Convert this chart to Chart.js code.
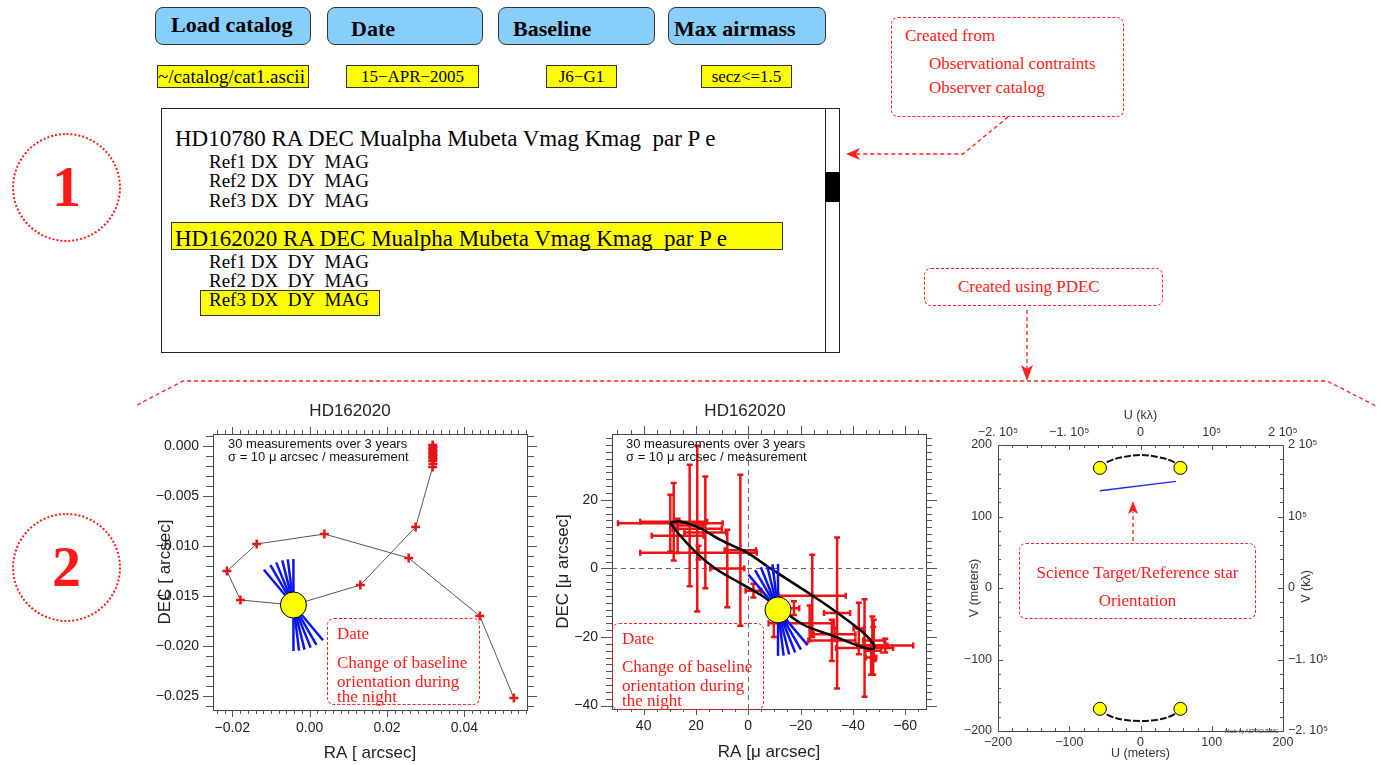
<!DOCTYPE html>
<html>
<head>
<meta charset="utf-8">
<script src="https://cdn.jsdelivr.net/npm/chart.js@4.4.1/dist/chart.umd.min.js"></script>
<style>
  body { margin: 0; width: 1381px; height: 765px; position: relative; overflow: hidden; background: #fff;
         font-family: 'Liberation Serif', 'Times New Roman', serif; }
  .a { position: absolute; white-space: nowrap; }
  .btn { position: absolute; top: 7px; height: 38px; background: #87cefa; border: 1px solid #333; border-radius: 8px;
         box-sizing: border-box; font-weight: bold; font-size: 22px; }
  .btn span { position: absolute; line-height: 22px; }
  .fld { position: absolute; top: 65px; height: 23px; background: #ffff00; border: 1px solid #333; box-sizing: border-box;
         font-size: 17px; line-height: 21px; text-align: center; white-space: nowrap; overflow: hidden; }
  .hd { font-size: 23px; line-height: 23px; }
  .ref { font-size: 19px; line-height: 19px; }
  .dash { position: absolute; border: 1.3px dashed #ff2020; border-radius: 7px; box-sizing: border-box; }
  .red { position: absolute; white-space: nowrap; color: #ff1a1a; font-size: 17px; line-height: 17px; }
  .num { position: absolute; border: 2.5px dotted #ff1a1a; border-radius: 50%; box-sizing: border-box;
         color: #ff1a1a; font-weight: bold; font-size: 58px; text-align: center; }
  .note { position: absolute; white-space: nowrap; font-family: 'Liberation Sans', Arial, sans-serif; font-size: 13px;
          line-height: 13px; color: #111; }
  .cv { position: absolute; }
</style>
</head>
<body>

<!-- panel 1 : catalog selector -->
<div class="num" style="left:12px;top:133px;width:109px;height:109px;line-height:104px;">1</div>
<div class="num" style="left:12px;top:513px;width:109px;height:109px;line-height:104px;">2</div>

<div class="btn" style="left:155px;width:156px;"><span style="left:15px;top:6px;">Load catalog</span></div>
<div class="btn" style="left:327px;width:156px;"><span style="left:23px;top:10px;">Date</span></div>
<div class="btn" style="left:498px;width:157px;"><span style="left:14px;top:10px;">Baseline</span></div>
<div class="btn" style="left:668px;width:158px;"><span style="left:5px;top:10px;">Max airmass</span></div>

<div class="fld" style="left:157px;width:152px;text-align:left;font-size:19px;">~/catalog/cat1.ascii</div>
<div class="fld" style="left:346px;width:133px;">15−APR−2005</div>
<div class="fld" style="left:546px;width:71px;">J6−G1</div>
<div class="fld" style="left:701px;width:91px;">secz&lt;=1.5</div>

<div class="a" style="left:161px;top:108px;width:679px;height:245px;border:1px solid #222;box-sizing:border-box;"></div>
<div class="a" style="left:825px;top:108px;width:1px;height:245px;background:#222;"></div>
<div class="a" style="left:825px;top:172px;width:15px;height:30px;background:#000;"></div>

<div class="a hd" style="left:175px;top:127px;">HD10780 RA DEC Mualpha Mubeta Vmag Kmag&nbsp; par P e</div>
<div class="a ref" style="left:209px;top:152px;">Ref1 DX&nbsp; DY&nbsp; MAG</div>
<div class="a ref" style="left:209px;top:171px;">Ref2 DX&nbsp; DY&nbsp; MAG</div>
<div class="a ref" style="left:209px;top:191px;">Ref3 DX&nbsp; DY&nbsp; MAG</div>
<div class="a" style="left:171px;top:222px;width:612px;height:28px;background:#ffff00;border:1px solid #333;box-sizing:border-box;"></div>
<div class="a hd" style="left:175px;top:227px;">HD162020 RA DEC Mualpha Mubeta Vmag Kmag&nbsp; par P e</div>
<div class="a ref" style="left:209px;top:252px;">Ref1 DX&nbsp; DY&nbsp; MAG</div>
<div class="a ref" style="left:209px;top:271px;">Ref2 DX&nbsp; DY&nbsp; MAG</div>
<div class="a" style="left:200px;top:290px;width:180px;height:26px;background:#ffff00;border:1px solid #333;box-sizing:border-box;"></div>
<div class="a ref" style="left:209px;top:290px;">Ref3 DX&nbsp; DY&nbsp; MAG</div>

<div class="dash" style="left:891px;top:17px;width:233px;height:100px;"></div>
<div class="red" style="left:905px;top:27px;">Created from</div>
<div class="red" style="left:929px;top:55px;">Observational contraints</div>
<div class="red" style="left:929px;top:79px;">Observer catalog</div>

<div class="dash" style="left:924px;top:268px;width:239px;height:38px;"></div>
<div class="red" style="left:958px;top:278px;">Created using PDEC</div>

<!-- panel 2 : charts -->
<div class="cv" style="left:150px;top:395px;"><canvas id="c1" width="400" height="370"></canvas></div>
<div class="cv" style="left:550px;top:395px;"><canvas id="c2" width="390" height="370"></canvas></div>
<div class="cv" style="left:940px;top:400px;"><canvas id="c3" width="441" height="365"></canvas></div>

<div class="note" style="left:228px;top:437px;">30 measurements over 3 years</div>
<div class="note" style="left:228px;top:450px;">σ = 10 μ arcsec / measurement</div>
<div class="note" style="left:626px;top:437px;">30 measurements over 3 years</div>
<div class="note" style="left:626px;top:450px;">σ = 10 μ arcsec / measurement</div>

<div class="dash" style="left:327px;top:618px;width:153px;height:87px;"></div>
<div class="red" style="left:337px;top:625px;">Date</div>
<div class="red" style="left:337px;top:654px;">Change of baseline</div>
<div class="red" style="left:337px;top:673px;">orientation during</div>
<div class="red" style="left:337px;top:688px;">the night</div>

<div class="dash" style="left:612px;top:623px;width:152px;height:87px;"></div>
<div class="red" style="left:622px;top:630px;">Date</div>
<div class="red" style="left:622px;top:658px;">Change of baseline</div>
<div class="red" style="left:622px;top:677px;">orientation during</div>
<div class="red" style="left:622px;top:692px;">the night</div>

<div class="dash" style="left:1019px;top:543px;width:237px;height:76px;"></div>
<div class="red" style="left:1019px;width:237px;text-align:center;top:564px;">Science Target/Reference star</div>
<div class="red" style="left:1019px;width:237px;text-align:center;top:592px;">Orientation</div>

<div class="note" style="left:1286px;top:580px;width:40px;text-align:center;font-size:12.5px;color:#333;transform:rotate(-90deg);">V (kλ)</div>
<div class="note" style="left:1225px;top:729px;font-size:5px;line-height:5px;color:#333;">Made by ASPRO/JMMC</div>

<svg class="a" style="left:0;top:0;" width="1381" height="765">
  <g fill="none" stroke="#ff2020" stroke-width="1.3" stroke-dasharray="4,3">
    <polyline points="1008,117 963,154 856,154"/>
    <line x1="1027" y1="310" x2="1027" y2="372"/>
    <polyline points="137,405 183,381 1327,381 1378,407"/>
    <line x1="1133" y1="541" x2="1133" y2="512"/>
  </g>
  <g fill="#ff2020">
    <polygon points="846,154 860,148 856,154 860,160"/>
    <polygon points="1027,381 1021,365 1027,369 1033,365"/>
    <polygon points="1133,501 1128,514 1133,511 1138,514"/>
  </g>
</svg>

<script>
const FONT = "'Liberation Sans', Arial, sans-serif";

// ---- chart 1 : apparent path of HD162020 (arcsec) ----
const pathRA  = [0.0318, 0.0319, 0.0318, 0.0319, 0.0318, 0.0319, 0.0318, 0.0319, 0.0318, 0.0319, 0.0318,
                 0.0274, 0.0131, -0.0042, -0.0179, -0.0214, -0.0137, 0.0038, 0.0256, 0.0440, 0.0528];
const pathDEC = [0.0001, -0.0001, -0.0003, -0.0005, -0.0007, -0.0009, -0.0011, -0.0013, -0.0015, -0.0018, -0.0021,
                 -0.0081, -0.0139, -0.0159, -0.0154, -0.0125, -0.0098, -0.0088, -0.0112, -0.0170, -0.0252];
const sun1 = {x: -0.0042, y: -0.0159};
const ra1TickValues = [-0.02, 0, 0.02, 0.04];
const ra1TickLabels = ['−0.02', '0.00', '0.02', '0.04'];
const dec1TickValues = [0, -0.005, -0.01, -0.015, -0.02, -0.025];
const dec1TickLabels = ['0.000', '−0.005', '−0.010', '−0.015', '−0.020', '−0.025'];

// ---- chart 2 : astrometric orbit (micro arcsec) ----
const measRA     = [29.8, 28.5, 22.4, 19.5, 16.4, 27, 19, 8, 3, -2, -9.8, -17.5, -23.5, -24.5, -34, -32, -33,
                    -42.3, -44.5, -47.5, -48, -47.8, -47, -52.4];
const measDEC    = [13.2, 13.6, 12.5, 11.6, 10.5, 9.5, 4.6, 0, 5.3, -6.5, -16, -11.6, -16, -8, -13, -21, -19.2,
                    -17.5, -23.2, -22.5, -21, -24, -26, -22.5];
const measRAErr  = [20, 12.8, 5, 9.4, 8, 9.9, 22.3, 6.5, 6, 3, 2, 2, 9.3, 12.8, 5, 9, 8,
                    2, 10.9, 5.7, 4, 3, 2, 10.7];
const measDECErr = [8.3, 11.3, 17.7, 24.2, 16.3, 5, 2, 11.3, 22, 2, 4, 2, 5.2, 12, 22, 6, 2,
                    7.5, 14.2, 8.5, 6, 7, 5, 2];
const orbitRA  = [29.8, 26, 18.3, 10.6, 0, -8.5, -25.1, -35.3, -44.3, -48.1, -47.8, -43, -31.5, -21.3,
                  -11.4, -4.7, 3, 11.9, 19.6, 27.3, 29.8];
const orbitDEC = [13.4, 13.7, 11.7, 8.3, 4.4, 0, -8.2, -13.6, -18.9, -22.3, -23.5, -22.8, -19.4, -16.5,
                  -11.3, -7.7, -4.3, -0.4, 4.4, 10.7, 13.4];
const sun2 = {x: -11.4, y: -12.1};
const ra2TickValues = [40, 20, 0, -20, -40, -60];
const ra2TickLabels = ['40', '20', '0', '−20', '−40', '−60'];
const dec2TickValues = [20, 0, -20, -40];
const dec2TickLabels = ['20', '0', '−20', '−40'];

// baseline orientation during the night (degrees from vertical)
const baselineAngles = [0, 7, 14, 22, 30, 40];

// ---- chart 3 : uv coverage ----
const telU = [-57, 56, -57, 56];
const telV = [168, 168, -169, -169];
const arcU = [-57, -45, -25, 0, 25, 45, 56];
const arcVTop = [168, 177, 183, 186, 183, 177, 168];
const arcVBottom = [-169, -178, -184, -186, -184, -178, -169];
const orientU = [-57, 50];
const orientV = [136, 149];
const uvTickValues = [-200, -100, 0, 100, 200];
const uvMeterLabels = ['−200', '−100', '0', '100', '200'];
const uKlambdaLabels = ['−2. 10⁵', '−1. 10⁵', '0', '10⁵', '2 10⁵'];
const vKlambdaLabels = ['−2. 10⁵', '−1. 10⁵', '0', '10⁵', '2 10⁵'];

const pts = (xs, ys) => xs.map((x, i) => ({x, y: ys[i]}));

function axis(o) {
  const tol = o.step / 100;
  return {
    type: 'linear', position: o.pos, min: o.min, max: o.max, reverse: !!o.reverse,
    grid: {display: false, drawTicks: false},
    border: {display: true, color: '#444', width: 1},
    ticks: {
      stepSize: o.step, autoSkip: false, maxRotation: 0, padding: o.pad || 0, includeBounds: false,
      display: !!o.labels, color: o.color || '#222', font: {family: FONT, size: o.font || 14},
      callback: v => {
        if (!o.labels) return '';
        const i = o.values.findIndex(t => Math.abs(t - v) < tol);
        return i >= 0 ? o.labels[i] : '';
      }
    },
    title: o.title ? {display: true, text: o.title, color: o.color || '#222',
                      font: {family: FONT, size: o.tfont || 17}, padding: o.tpad} : {display: false},
    afterFit: s => { if (o.pos === 'top' || o.pos === 'bottom') s.height = o.size; else s.width = o.size; }
  };
}

// tick marks with long majors and short minors, outward or inward
function tickMarks(cfg) {
  return {
    id: 'tickMarks',
    afterDraw(chart) {
      const ctx = chart.ctx;
      ctx.save();
      ctx.strokeStyle = '#555';
      ctx.lineWidth = 1;
      Object.keys(cfg).forEach(id => {
        const s = chart.scales[id], m = cfg[id];
        const pos = s.options.position;
        const tol = Math.abs(s.max - s.min) * 1e-6;
        const dir = m.dir === 'in' ? -1 : 1;
        s.ticks.forEach(t => {
          const major = m.values.some(v => Math.abs(v - t.value) < tol);
          const len = (major ? m.major : m.minor) * dir;
          const p = Math.round(s.getPixelForValue(t.value)) + 0.5;
          ctx.beginPath();
          if (pos === 'left') { ctx.moveTo(s.right, p); ctx.lineTo(s.right - len, p); }
          else if (pos === 'right') { ctx.moveTo(s.left, p); ctx.lineTo(s.left + len, p); }
          else if (pos === 'bottom') { ctx.moveTo(p, s.top); ctx.lineTo(p, s.top + len); }
          else { ctx.moveTo(p, s.bottom); ctx.lineTo(p, s.bottom - len); }
          ctx.stroke();
        });
      });
      ctx.restore();
    }
  };
}

// blue fan of baseline orientations through the star position
function baselineFan(center, afterIndex) {
  return {
    id: 'baselineFan',
    afterDatasetDraw(chart, args) {
      if (args.index !== afterIndex) return;
      const ctx = chart.ctx;
      const cx = chart.scales.x.getPixelForValue(center.x);
      const cy = chart.scales.y.getPixelForValue(center.y);
      const L = 46;
      ctx.save();
      ctx.strokeStyle = '#0a14f0';
      ctx.lineWidth = 2.5;
      baselineAngles.forEach(a => {
        const r = a * Math.PI / 180;
        ctx.beginPath();
        ctx.moveTo(cx - L * Math.sin(r), cy - L * Math.cos(r));
        ctx.lineTo(cx + L * Math.sin(r), cy + L * Math.cos(r));
        ctx.stroke();
      });
      ctx.restore();
    }
  };
}

const errorBars = {
  id: 'errorBars',
  beforeDatasetsDraw(chart) {
    const {ctx, chartArea: ca} = chart;
    const xs = chart.scales.x, ys = chart.scales.y;
    ctx.save();
    // zero reference lines
    ctx.strokeStyle = '#666';
    ctx.lineWidth = 1;
    ctx.setLineDash([5, 4]);
    const x0 = Math.round(xs.getPixelForValue(0)) + 0.5, y0 = Math.round(ys.getPixelForValue(0)) + 0.5;
    ctx.beginPath();
    ctx.moveTo(x0, ca.top); ctx.lineTo(x0, ca.bottom);
    ctx.moveTo(ca.left, y0); ctx.lineTo(ca.right, y0);
    ctx.stroke();
    ctx.setLineDash([]);
    ctx.strokeStyle = '#ee1212';
    ctx.lineWidth = 2.5;
    const cap = 3;
    measRA.forEach((ra, i) => {
      const px = xs.getPixelForValue(ra), py = ys.getPixelForValue(measDEC[i]);
      const xa = xs.getPixelForValue(ra - measRAErr[i]), xb = xs.getPixelForValue(ra + measRAErr[i]);
      const ya = ys.getPixelForValue(measDEC[i] - measDECErr[i]), yb = ys.getPixelForValue(measDEC[i] + measDECErr[i]);
      ctx.beginPath();
      ctx.moveTo(xa, py); ctx.lineTo(xb, py);
      ctx.moveTo(xa, py - cap); ctx.lineTo(xa, py + cap);
      ctx.moveTo(xb, py - cap); ctx.lineTo(xb, py + cap);
      ctx.moveTo(px, ya); ctx.lineTo(px, yb);
      ctx.moveTo(px - cap, ya); ctx.lineTo(px + cap, ya);
      ctx.moveTo(px - cap, yb); ctx.lineTo(px + cap, yb);
      ctx.stroke();
    });
    ctx.restore();
  }
};

const base = {
  responsive: false, animation: false, devicePixelRatio: 1,
  layout: {padding: 0},
  plugins: {legend: {display: false}, tooltip: {enabled: false}}
};
const titleOpts = {display: true, text: 'HD162020', color: '#222', font: {family: FONT, size: 17, weight: 'normal'},
                   padding: {top: 6, bottom: 0}};

// chart 1
new Chart(document.getElementById('c1'), {
  type: 'scatter',
  data: {datasets: [
    {data: [sun1], xAxisID: 'x', yAxisID: 'y', pointRadius: 13, pointBackgroundColor: '#ffff00',
     pointBorderColor: '#000', pointBorderWidth: 1},
    {data: pts(pathRA, pathDEC), xAxisID: 'x', yAxisID: 'y', showLine: true, borderColor: '#555', borderWidth: 1,
     pointStyle: 'cross', pointRadius: 4.5, pointBorderColor: '#e8141a', pointBorderWidth: 2.5}
  ]},
  options: {...base,
    plugins: {...base.plugins, title: titleOpts},
    scales: {
      x: axis({pos: 'bottom', min: -0.025, max: 0.0562, step: 0.002, values: ra1TickValues, labels: ra1TickLabels,
               pad: 10, size: 55, title: 'RA [ arcsec]', tpad: {bottom: 1}}),
      x2: axis({pos: 'top', min: -0.025, max: 0.0562, step: 0.002, size: 12.6}),
      y: axis({pos: 'left', min: -0.0264, max: 0.0012, step: 0.001, values: dec1TickValues, labels: dec1TickLabels,
               pad: 14, size: 63, title: 'DEC [ arcsec]', tpad: {top: 5}}),
      y2: axis({pos: 'right', min: -0.0264, max: 0.0012, step: 0.001, size: 23})
    }
  },
  plugins: [
    tickMarks({x: {dir: 'out', major: 7, minor: 4, values: ra1TickValues},
               x2: {dir: 'out', major: 7, minor: 4, values: ra1TickValues},
               y: {dir: 'out', major: 10, minor: 7, values: dec1TickValues},
               y2: {dir: 'out', major: 10, minor: 7, values: dec1TickValues}}),
    baselineFan(sun1, 1)
  ]
});

// chart 2
new Chart(document.getElementById('c2'), {
  type: 'scatter',
  data: {datasets: [
    {data: [sun2], xAxisID: 'x', yAxisID: 'y', pointRadius: 13, pointBackgroundColor: '#ffff00',
     pointBorderColor: '#000', pointBorderWidth: 1},
    {data: pts(orbitRA, orbitDEC), xAxisID: 'x', yAxisID: 'y', showLine: true, borderColor: '#000',
     borderWidth: 2.5, tension: 0.3, pointRadius: 0}
  ]},
  options: {...base,
    plugins: {...base.plugins, title: titleOpts},
    scales: {
      x: axis({pos: 'bottom', min: -68, max: 52.1, reverse: true, step: 5, values: ra2TickValues,
               labels: ra2TickLabels, pad: 9, size: 56, title: 'RA [μ arcsec]', tpad: {bottom: 2}}),
      x2: axis({pos: 'top', min: -68, max: 52.1, reverse: true, step: 5, size: 12.6}),
      y: axis({pos: 'left', min: -41, max: 39.2, step: 2, values: dec2TickValues, labels: dec2TickLabels,
               pad: 14, size: 62, title: 'DEC [μ arcsec]', tpad: {top: 3}}),
      y2: axis({pos: 'right', min: -41, max: 39.2, step: 2, size: 14})
    }
  },
  plugins: [
    errorBars,
    tickMarks({x: {dir: 'out', major: 6, minor: 3, values: ra2TickValues},
               x2: {dir: 'out', major: 8, minor: 4, values: ra2TickValues},
               y: {dir: 'out', major: 11, minor: 6, values: dec2TickValues},
               y2: {dir: 'out', major: 11, minor: 6, values: dec2TickValues}}),
    baselineFan(sun2, 1)
  ]
});

// chart 3
new Chart(document.getElementById('c3'), {
  type: 'scatter',
  data: {datasets: [
    {data: pts(telU, telV), xAxisID: 'x', yAxisID: 'y', pointRadius: 6.5, pointBackgroundColor: '#ffff00',
     pointBorderColor: '#000', pointBorderWidth: 1},
    {data: pts(arcU, arcVTop), xAxisID: 'x', yAxisID: 'y', showLine: true, borderColor: '#111', borderWidth: 2,
     borderDash: [7, 2], tension: 0.4, pointRadius: 0},
    {data: pts(arcU, arcVBottom), xAxisID: 'x', yAxisID: 'y', showLine: true, borderColor: '#111', borderWidth: 2,
     borderDash: [7, 2], tension: 0.4, pointRadius: 0},
    {data: pts(orientU, orientV), xAxisID: 'x', yAxisID: 'y', showLine: true, borderColor: '#1a2ae6',
     borderWidth: 1.3, pointRadius: 0}
  ]},
  options: {...base,
    scales: {
      x: axis({pos: 'bottom', min: -200, max: 200, step: 20, values: uvTickValues, labels: uvMeterLabels,
               pad: 4, size: 34, font: 12.5, color: '#333', title: 'U (meters)', tfont: 12.5, tpad: {bottom: 4}}),
      x2: axis({pos: 'top', min: -200, max: 200, step: 20, values: uvTickValues, labels: uKlambdaLabels,
                pad: 5, size: 45, font: 12.5, color: '#333', title: 'U (kλ)', tfont: 12.5, tpad: {top: 8}}),
      y: axis({pos: 'left', min: -200, max: 200, step: 20, values: uvTickValues, labels: uvMeterLabels,
               pad: 6, size: 58, font: 12.5, color: '#333', title: 'V (meters)', tfont: 12.5, tpad: {top: 27}}),
      y2: axis({pos: 'right', min: -200, max: 200, step: 20, values: uvTickValues, labels: vKlambdaLabels,
                pad: 5, size: 98, font: 12.5, color: '#333'})
    }
  },
  plugins: [
    tickMarks({x: {dir: 'in', major: 5, minor: 3, values: uvTickValues},
               x2: {dir: 'in', major: 5, minor: 3, values: uvTickValues},
               y: {dir: 'in', major: 5, minor: 3, values: uvTickValues},
               y2: {dir: 'in', major: 5, minor: 3, values: uvTickValues}})
  ]
});
</script>
</body>
</html>
